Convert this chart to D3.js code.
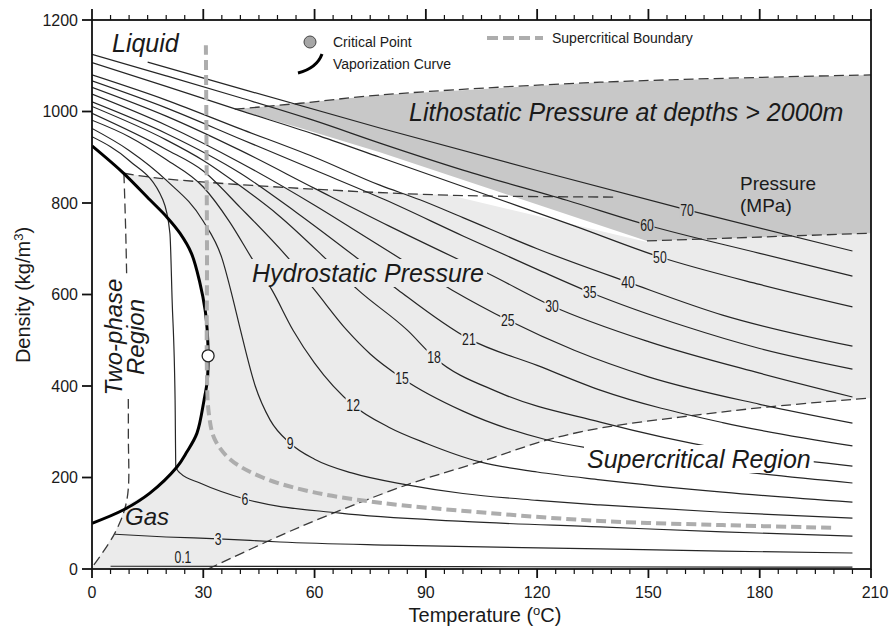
<!DOCTYPE html>
<html>
<head>
<meta charset="utf-8">
<script src="https://cdn.jsdelivr.net/npm/d3@7"></script>
<style>
  body { margin: 0; background: #fff; }
  #chart { width: 891px; height: 629px; position: relative; }
  text { font-family: "Liberation Sans", Arial, sans-serif; fill: #1a1a1a; }
  .region { font-style: italic; font-size: 25px; }
  .tick-label { font-size: 16px; }
  .axis-title { font-size: 20px; }
  .legend text { font-size: 14px; }
  .isobar { fill: none; stroke: #262626; stroke-width: 1.2; }
  .boundary { fill: none; stroke: #3a3a3a; stroke-width: 1.3; stroke-dasharray: 10 5; }
</style>
</head>
<body>
<div id="chart"></div>
<script>
// ---- data: [temperature (C), density (kg/m3)] ----
const p70 = [[15,1108],[40,1050],[77.6,964],[120,871],[160.4,785],[205,695]];
const p60 = [[0,1125],[20,1078],[40,1030],[60,980],[77.6,931],[100,872],[128,806],[149.6,752],[180,690],[205,640]];
const p50 = [[0,1107],[20,1055],[40,1002],[60,950],[77.6,900],[108,813],[130,750],[153.1,682],[180,622],[205,573]];
const p40 = [[0,1080],[20,1025],[40,962],[60,900],[77.6,839],[88.4,807],[100,768],[120,700],[144.5,627],[170,555],[205,487]];
const p35 = [[0,1067],[20,1008],[40,940],[60,872],[79,807],[100,728],[120,655],[134.2,605],[160,530],[180,482],[205,437]];
const p30 = [[0,1053],[20,990],[40,915],[60,832],[80,750],[99.2,675],[106.5,647],[124,575],[150,497],[180,428],[205,376]];
const p25 = [[0,1038],[20,970],[40,888],[60,795],[70,745],[83.8,675],[97,610],[112.1,544],[130,478],[150,420],[180,360],[205,319]];
const p21 = [[0,1021],[20,952],[40,865],[55,780],[72.2,675],[82.5,610],[101.6,503],[120,445],[137,391],[170,320],[205,269]];
const p18 = [[0,1011],[20,938],[30,893],[40,837],[50,775],[63.4,675],[71.7,610],[85,522],[92.2,463],[110,385],[137,321],[170,262],[205,225]];
const p15 = [[0,996],[20,917],[30,870],[40,790],[53.4,675],[60,610],[68.7,522],[75,470],[83.6,417],[100,345],[122.7,282],[137,260],[170,218],[205,188]];
const p12 = [[0,981],[10,945],[20,895],[30,835],[37,760],[43.4,675],[48.5,610],[54.2,522],[60,450],[70.4,358],[80,310],[90,275],[104.6,234],[120,212],[137,195],[170,168],[205,146]];
const p9 = [[0,963],[10,915],[20,850],[30,760],[35,680],[38,590],[40,523],[44,400],[48,326],[53.4,275],[60,240],[70,210],[84.9,184],[100,165],[120,150],[137,140],[170,124],[205,111]];
const p6 = [[0,945],[10,893],[19.1,807],[21,734],[21.6,588],[22.4,369],[22.6,223],[23.7,210],[29.1,188],[41.2,153],[66.9,122],[100,104],[137,92],[170,81],[205,72]];
const p3 = [[6.2,76],[20,70],[34,66],[50.7,59],[80,52],[137,44],[170,39],[205,35]];
const p01 = [[5,6],[100,5],[205,4]];

const isobarNames = ['0.1','3','6','9','12','15','18','21','25','30','35','40','50','60','70'];
const isobarLines = [p01, p3, p6, p9, p12, p15, p18, p21, p25, p30, p35, p40, p50, p60, p70];
const labelTemps = [24.5, 34, 41.2, 53.4, 70.4, 83.6, 92.2, 101.6, 112.1, 124, 134.2, 144.5, 153.1, 149.6, 160.4];

// liquid-vapour saturation curve, through the critical point
const vaporization = [[0,925],[8.4,866],[15.6,807],[20.2,769],[23.7,734],[26.8,690],[29.1,625],[30.5,566],[31.1,516],[31.3,466],
  [31.1,413],[30.2,369],[28.3,297],[25.5,255],[22.9,223],[15.6,166],[8.4,129],[0,100]];
const criticalPoint = [31.3, 466];
const supercritical = [[30.7,1145],[31,700],[31,420],[31.5,340],[33,285],[37.2,240],[46,200],[59.6,168],[77.6,145],[104.6,124],[137,105],[170,96],[200,90]];

// dashed region boundaries
const twoPhaseEdge = [[0.5,9],[6.2,79],[9.4,151],[9.8,300],[9.2,700],[8.6,865]];
const hydroTop = [[8.6,865],[18.3,854],[56.1,832],[96.5,817],[140.5,813]];
const hydroBottom = [[31.3,0],[56.1,92],[84.9,184],[104.6,234],[122.7,282],[137,308],[158.5,332],[182,354],[210,374]];
const lithoTop = [[38.5,1005],[56.1,1018],[77.6,1036],[137,1064],[210,1080]];
const lithoBottom = [[149.6,717],[210,734]];
const lithoEdge = [[38.5,1005],[56.1,964],[77.6,911],[149.6,717]];
const hydroEdge = [[96.5,817],[149.6,715]];

const xTicks = [0, 30, 60, 90, 120, 150, 180, 210];
const yTicks = [0, 200, 400, 600, 800, 1000, 1200];

(function () {

  const width = 891, height = 629;
  const svg = d3.select('#chart').append('svg')
    .attr('width', width)
    .attr('height', height);

  // plot frame in pixels
  const x = d3.scaleLinear().domain([0, 210]).range([92, 871]);
  const y = d3.scaleLinear().domain([0, 1200]).range([569, 20]);

  const lineGen = d3.line().x(d => x(d[0])).y(d => y(d[1]));
  const smooth = d3.line().x(d => x(d[0])).y(d => y(d[1])).curve(d3.curveCatmullRom.alpha(0.5));
  const mono = d3.line().x(d => x(d[0])).y(d => y(d[1])).curve(d3.curveMonotoneX);

  svg.append('clipPath').attr('id', 'plot-clip')
    .append('rect').attr('x', 92).attr('y', 20).attr('width', 779).attr('height', 549);

  const plot = svg.append('g').attr('clip-path', 'url(#plot-clip)');

  // ---- shaded regions ----
  // hydrostatic (light grey): two-phase edge -> vapour curve -> top dashed -> litho bottom -> right -> bottom dashed
  const vapLower = vaporization.slice(11).reverse().filter(d => d[0] > 9); // from low-T gas side up to critical
  const vapUpper = vaporization.slice(0, 9).reverse().filter(d => d[0] > 8.6);
  const hydroPoly = [[0,0]].concat(twoPhaseEdge.slice(0, 2), [[9.2,140]], vapLower,
    vapUpper, hydroTop.slice(0, 4), hydroEdge.slice(1), lithoBottom, [[210,374]],
    hydroBottom.slice().reverse(), [[0,0]]);
  plot.append('path')
    .attr('d', lineGen(hydroPoly) + 'Z')
    .attr('fill', '#ebebeb');

  const lithoPoly = lithoTop.concat(lithoBottom.slice().reverse(), lithoEdge.slice().reverse());
  plot.append('path')
    .attr('d', lineGen(lithoPoly) + 'Z')
    .attr('fill', '#c8c8c8');

  // ---- dashed boundaries ----
  [twoPhaseEdge, hydroTop, hydroBottom, lithoTop, lithoBottom].forEach(b => {
    plot.append('path').attr('class', 'boundary').attr('d', smooth(b));
  });

  // ---- isobars ----
  const isoPaths = isobarLines.map((pts, i) => plot.append('path')
    .attr('class', 'isobar')
    .attr('stroke', i === 0 ? '#444' : null)
    .attr('stroke-width', i === 0 ? 1.6 : null)
    .attr('d', mono(pts)));

  // vaporization curve and supercritical boundary
  plot.append('path')
    .attr('d', smooth(vaporization))
    .attr('fill', 'none').attr('stroke', '#000').attr('stroke-width', 3);

  plot.append('path')
    .attr('d', smooth(supercritical))
    .attr('fill', 'none').attr('stroke', '#adadad').attr('stroke-width', 4)
    .attr('stroke-dasharray', '10 5');

  plot.append('circle')
    .attr('cx', x(criticalPoint[0])).attr('cy', y(criticalPoint[1])).attr('r', 6)
    .attr('fill', '#fff').attr('stroke', '#222').attr('stroke-width', 1.3);

  // ---- isobar labels, placed on their curve ----
  function pointAtX(node, tx) {
    let lo = 0, hi = node.getTotalLength();
    for (let k = 0; k < 40; k++) {
      const mid = (lo + hi) / 2;
      if (node.getPointAtLength(mid).x < tx) lo = mid; else hi = mid;
    }
    return node.getPointAtLength(lo);
  }

  isobarNames.forEach((name, i) => {
    const pt = pointAtX(isoPaths[i].node(), x(labelTemps[i]));
    const g = svg.append('g')
      .attr('transform', `translate(${pt.x},${i === 0 ? pt.y - 9 : pt.y}) scale(0.72,1)`);
    const bg = i >= 13 ? '#c8c8c8' : '#ebebeb';
    const rect = g.append('rect').attr('fill', i === 0 ? 'none' : bg);
    const t = g.append('text')
      .attr('text-anchor', 'middle')
      .attr('dy', '0.36em')
      .style('font-size', '17px')
      .text(name);
    const bb = t.node().getBBox();
    rect.attr('x', bb.x - 1).attr('y', bb.y + 1).attr('width', bb.width + 2).attr('height', bb.height - 2);
  });

  // ---- region labels with knockout boxes ----
  function knockText(sel, fill) {
    const bb = sel.node().getBBox();
    sel.node().parentNode.insertBefore(
      document.createElementNS('http://www.w3.org/2000/svg', 'rect'), sel.node());
    d3.select(sel.node().previousSibling)
      .attr('x', bb.x - 3).attr('y', bb.y).attr('width', bb.width + 6).attr('height', bb.height)
      .attr('fill', fill);
  }

  const labels = svg.append('g');
  labels.append('text').attr('class', 'region').attr('x', 112).attr('y', 52).text('Liquid');
  knockText(labels.append('text').attr('class', 'region').attr('x', 252).attr('y', 282).text('Hydrostatic Pressure'), '#ebebeb');
  knockText(labels.append('text').attr('class', 'region').attr('x', 587).attr('y', 468).text('Supercritical Region'), '#fff');
  labels.append('text').attr('class', 'region').attr('x', 409).attr('y', 121).text('Lithostatic Pressure at depths > 2000m');
  labels.append('text').attr('class', 'region').style('font-size', '24px').attr('x', 125).attr('y', 525).text('Gas');
  labels.append('text').style('font-size', '19px').attr('x', 740).attr('y', 190).text('Pressure');
  labels.append('text').style('font-size', '19px').attr('x', 740).attr('y', 212).text('(MPa)');

  const tp = labels.append('g').attr('transform', 'translate(0,337) rotate(-90)');
  tp.append('rect').attr('x', -62).attr('y', 101).attr('width', 124).attr('height', 48).attr('fill', '#fff');
  tp.append('text').attr('class', 'region').style('font-size', '24px').attr('text-anchor', 'middle').attr('x', 0).attr('y', 122).text('Two-phase');
  tp.append('text').attr('class', 'region').style('font-size', '24px').attr('text-anchor', 'middle').attr('x', 0).attr('y', 144).text('Region');

  // ---- legend ----
  const legend = svg.append('g').attr('class', 'legend');
  legend.append('circle').attr('cx', 310).attr('cy', 42).attr('r', 6)
    .attr('fill', '#a6a6a6').attr('stroke', '#444').attr('stroke-width', 1);
  legend.append('text').attr('x', 333).attr('y', 47).text('Critical Point');
  legend.append('path').attr('d', 'M298,73 Q317,68 322,54')
    .attr('fill', 'none').attr('stroke', '#000').attr('stroke-width', 3);
  legend.append('text').attr('x', 333).attr('y', 69).text('Vaporization Curve');
  legend.append('line').attr('x1', 487).attr('x2', 543).attr('y1', 38).attr('y2', 38)
    .attr('stroke', '#adadad').attr('stroke-width', 4).attr('stroke-dasharray', '11 5');
  legend.append('text').attr('x', 552).attr('y', 43).text('Supercritical Boundary');

  // ---- axes ----
  const axes = svg.append('g');
  axes.append('rect').attr('x', 92).attr('y', 20).attr('width', 779).attr('height', 549)
    .attr('fill', 'none').attr('stroke', '#111').attr('stroke-width', 1.8);

  const minor = d3.range(0, 211, 5);
  axes.selectAll('.xb').data(minor).join('line')
    .attr('x1', d => x(d)).attr('x2', d => x(d))
    .attr('y1', 569).attr('y2', d => d % 30 === 0 ? 578 : 574)
    .attr('stroke', '#111').attr('stroke-width', d => d % 30 === 0 ? 1.8 : 1.2);
  axes.selectAll('.xt').data(minor).join('line')
    .attr('x1', d => x(d)).attr('x2', d => x(d))
    .attr('y1', 20).attr('y2', d => d % 30 === 0 ? 9 : 15)
    .attr('stroke', '#111').attr('stroke-width', d => d % 30 === 0 ? 1.8 : 1.2);
  axes.selectAll('.yt').data(yTicks).join('line')
    .attr('x1', 82).attr('x2', 92).attr('y1', d => y(d)).attr('y2', d => y(d))
    .attr('stroke', '#111').attr('stroke-width', 1.8);

  axes.selectAll('.xl').data(xTicks).join('text')
    .attr('class', 'tick-label').attr('text-anchor', 'middle')
    .attr('x', d => x(d) + (d === 210 ? 4 : 0)).attr('y', 598).text(d => d);
  axes.selectAll('.yl').data(yTicks).join('text')
    .attr('class', 'tick-label').attr('text-anchor', 'end')
    .attr('x', 78).attr('y', d => y(d)).attr('dy', '0.35em').text(d => d);

  const xt = axes.append('text').attr('class', 'axis-title').attr('text-anchor', 'middle')
    .attr('x', 485).attr('y', 622);
  xt.append('tspan').text('Temperature (');
  xt.append('tspan').attr('dy', -7).style('font-size', '13px').text('o');
  xt.append('tspan').attr('dy', 7).text('C)');

  const yt = axes.append('text').attr('class', 'axis-title').attr('text-anchor', 'middle')
    .attr('transform', 'translate(30,295) rotate(-90)');
  yt.append('tspan').text('Density (kg/m');
  yt.append('tspan').attr('dy', -7).style('font-size', '13px').text('3');
  yt.append('tspan').attr('dy', 7).text(')');

})();
</script>
</body>
</html>
